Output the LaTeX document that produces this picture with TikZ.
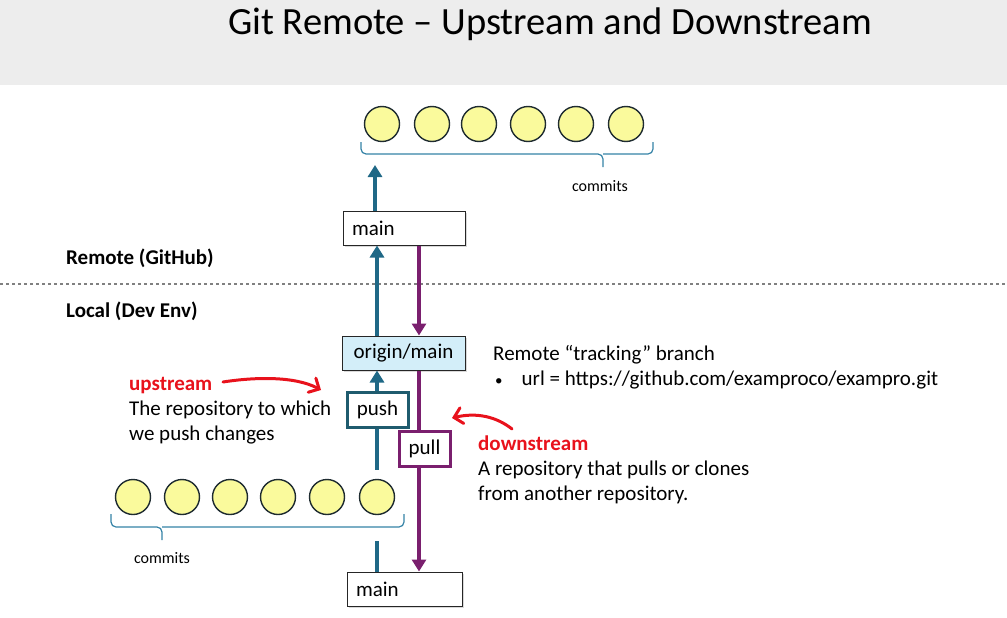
\documentclass[tikz,border=0pt]{standalone}
\usepackage{fontspec}
\setmainfont{Carlito}
\usetikzlibrary{positioning,arrows.meta,shadows}

\definecolor{upblue}{HTML}{1F6886}
\definecolor{pushblue}{HTML}{1F5B6E}
\definecolor{pullpurple}{HTML}{7A1F6E}
\definecolor{notered}{HTML}{E8121C}
\definecolor{commitfill}{HTML}{FAFA9C}
\definecolor{commitline}{HTML}{1E2B30}
\definecolor{trackfill}{HTML}{D3EEF9}
\definecolor{headgrey}{HTML}{EDEDED}
\definecolor{bracecol}{HTML}{3482A6}

\newcommand{\bodyfont}{\fontsize{21}{25}\selectfont}

\tikzset{
  commit/.style={circle,draw=commitline,fill=commitfill,line width=1.4pt,minimum size=35pt,inner sep=0pt},
  branch/.style={draw=black!85,fill=white,line width=1pt,minimum height=34pt,inner xsep=9pt,inner ysep=0pt,
    font=\bodyfont,drop shadow={opacity=.3,shadow xshift=2pt,shadow yshift=-2pt}},
  opbox/.style={fill=white,line width=3pt,minimum height=35pt,inner sep=0pt,font=\bodyfont},
  upline/.style={draw=upblue,line width=4pt},
  downline/.style={draw=pullpurple,line width=3.5pt},
  tip/.style={-{Triangle[width=14pt,length=12pt]}},
  bracket/.style={draw=bracecol,line width=1.2pt,rounded corners=5pt},
  redarrow/.style={draw=notered,line width=3pt,line cap=round,-{Straight Barb[length=8pt,width=16pt,line cap=round]}},
  note/.style={anchor=base west,align=left,font=\bodyfont,inner sep=0pt}
}

\begin{document}
\begin{tikzpicture}[x=1pt,y=-1pt]
\useasboundingbox (0,0) rectangle (1007,618);
\fill[headgrey] (0,0) rectangle (1007,85);
\node (title) at (550,24) {\fontsize{38.5}{40}\selectfont Git Remote -- Upstream and Downstream};

% remote / local split
\draw[gray,line width=2.5pt,dash pattern=on 2.5pt off 3.5pt] (0,284) -- (1007,284);
\node (remote) [note,font=\fontsize{21}{22}\selectfont\bfseries] at (66,264) {Remote (GitHub)};
\node (local) [note,font=\fontsize{21}{22}\selectfont\bfseries] at (66,317) {Local (Dev Env)};

% commits
\foreach \x [count=\i] in {382,432,479,528,576,626}
  \node (rc\i) [commit] at (\x,124) {};
\foreach \x [count=\i] in {133,182,230,278,327,377}
  \node (lc\i) [commit] at (\x,497) {};
\draw[bracket] (361,142) |- (603,154) -- (603,167);
\draw[bracket] (603,154) -| (653,142);
\draw[bracket] (111,514) |- (162,527) -- (162,540);
\draw[bracket] (162,527) -| (404,514);
\node (rcommits) [font=\fontsize{16}{18}\selectfont] at (600,186) {commits};
\node (lcommits) [font=\fontsize{16}{18}\selectfont] at (162,558) {commits};

% branches
\node (mainR) [branch,text width=104pt,align=left] at (404,228) {main};
\node (origin) [branch,fill=trackfill,minimum width=123pt] at (403.5,353) {origin/main};
\node (push) [opbox,draw=pushblue,minimum width=61pt] at (377.5,410) {push};
\node (pull) [opbox,draw=pullpurple,minimum width=51pt] at (424.5,448.5) {pull};
\node (mainL) [branch,text width=97pt,align=left] at (404.5,589) {main};

\coordinate (upaxis) at (377,0);
\coordinate (downaxis) at (419,0);
\coordinate (toptip) at (375,165);
\coordinate (gaptop) at (377,470);
\coordinate (gapbot) at (377,541);

\draw[upline,tip] (mainR.north -| toptip) -- (toptip);
\draw[upline,tip] (origin.north -| upaxis) -- (mainR.south -| upaxis);
\draw[downline,tip] (mainR.south -| downaxis) -- (origin.north -| downaxis);
\draw[upline,tip] (push.north -| upaxis) -- (origin.south -| upaxis);
\draw[upline] (push.south -| upaxis) -- (gaptop);
\draw[upline] (gapbot) -- (mainL.north -| upaxis);
\draw[downline] (origin.south -| downaxis) -- (pull.north -| downaxis);
\draw[downline,tip] (pull.south -| downaxis) -- (mainL.north -| downaxis);

% notes
\node (upnote) [note] at (129,440) {\textcolor{notered}{\textbf{upstream}}\\The repository to which\\we push changes};
\node (downnote) [note] at (478,500) {\textcolor{notered}{\textbf{downstream}}\\A repository that pulls or clones\\from another repository.};
\node (track) [note] at (493,385) {Remote “tracking” branch\\\hspace*{2pt}{\fontsize{15}{15}\selectfont•}\hspace{19pt}url = https://github.com/examproco/exampro.git};

\coordinate (upstart) at (223,382);
\coordinate (upend) at (321,390);
\coordinate (downstart) at (512,429);
\coordinate (downend) at (452,418);
\draw[redarrow] (upstart) .. controls (255,377) and (295,376) .. (upend);
\draw[redarrow] (downstart) .. controls (497,417) and (477,412) .. (downend);
\end{tikzpicture}
\end{document}
